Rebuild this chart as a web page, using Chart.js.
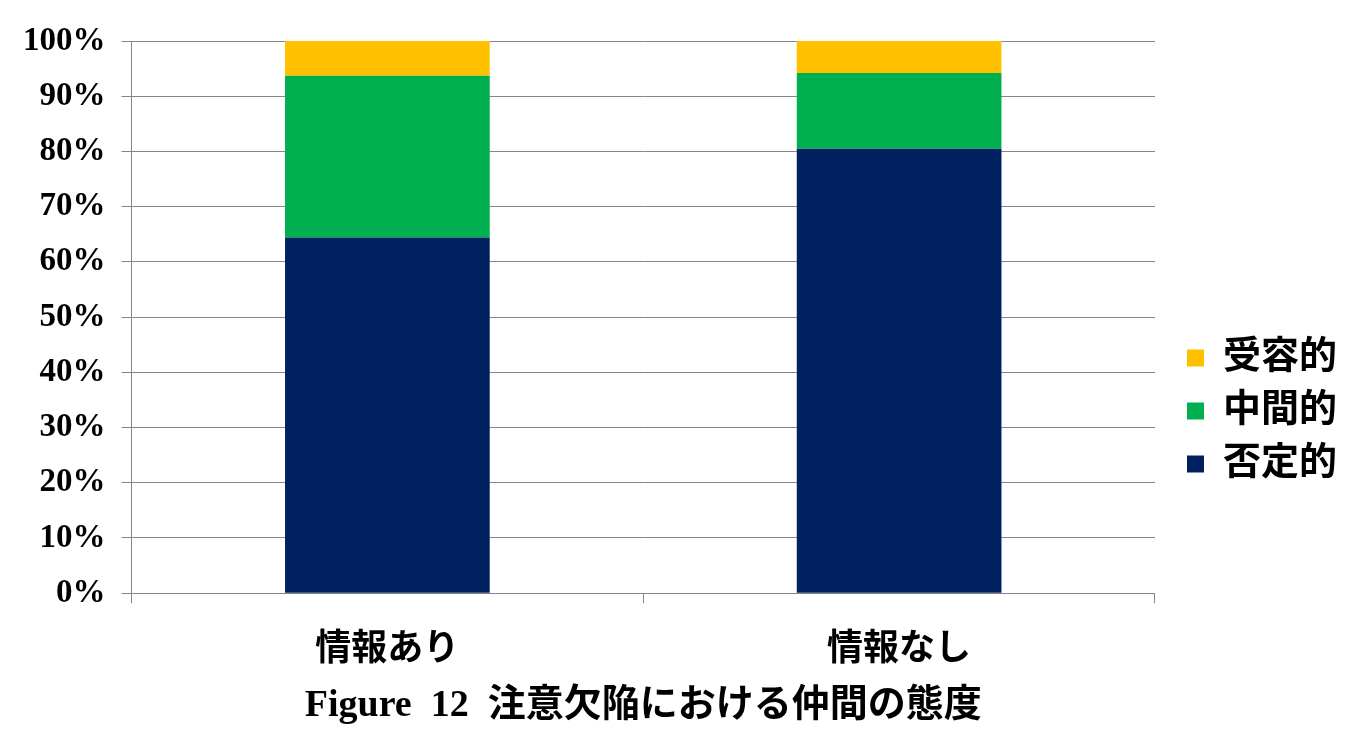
<!DOCTYPE html>
<html>
<head>
<meta charset="utf-8">
<script src="https://cdn.jsdelivr.net/npm/chart.js@4/dist/chart.umd.min.js"></script>
<style>
html,body{margin:0;padding:0;background:#fff;}
canvas{display:block;}
</style>
</head>
<body>
<canvas id="c" width="1352" height="744"></canvas>
<script>
const categories = ["情報あり", "情報なし"];
const seriesNames = ["否定的", "中間的", "受容的"];
const negative = [64.4, 80.5];
const neutral = [29.3, 13.7];
const accepting = [6.3, 5.8];
const seriesColors = ["#002060", "#00B050", "#FFC000"];
const titleText = "Figure  12  注意欠陥における仲間の態度";

const FONT = '"Liberation Serif", "Noto Sans CJK JP", serif';
const gridColor = "#868686";

// nudge the legend block to sit where the reference places it
const legendNudge = {
  id: "legendNudge",
  afterLayout(chart) {
    const lg = chart.legend;
    if (!lg) return;
    const dx = 17, dy = 26;
    lg.left += dx; lg.right += dx;
    lg.top += dy; lg.bottom += dy;
  }
};

new Chart(document.getElementById("c"), {
  type: "bar",
  data: {
    labels: categories,
    datasets: [
      { label: seriesNames[0], data: negative, backgroundColor: seriesColors[0] },
      { label: seriesNames[1], data: neutral, backgroundColor: seriesColors[1] },
      { label: seriesNames[2], data: accepting, backgroundColor: seriesColors[2] }
    ]
  },
  plugins: [legendNudge],
  options: {
    responsive: false,
    animation: false,
    devicePixelRatio: 1,
    layout: { padding: { top: 41, right: 22, left: 7, bottom: 15 } },
    datasets: { bar: { categoryPercentage: 1.0, barPercentage: 0.4, borderWidth: 0 } },
    scales: {
      x: {
        stacked: true,
        offset: true,
        grid: { offset: true, drawOnChartArea: false, drawTicks: true, tickLength: 10, color: gridColor, lineWidth: 1 },
        border: { display: true, color: gridColor, width: 1 },
        ticks: { color: "#000", padding: 26, font: { family: FONT, size: 36, weight: "bold" } }
      },
      y: {
        stacked: true,
        min: 0, max: 100,
        grid: { drawTicks: true, tickLength: 10, color: gridColor, lineWidth: 1 },
        border: { display: true, color: gridColor, width: 1 },
        ticks: { stepSize: 10, color: "#000", padding: 16, font: { family: FONT, size: 33, weight: "bold" },
                 callback: v => v + "%" }
      }
    },
    plugins: {
      tooltip: { enabled: false },
      legend: {
        position: "right",
        reverse: true,
        labels: { color: "#000", boxWidth: 17, boxHeight: 17, padding: 15,
                  font: { family: FONT, size: 38, weight: "bold" } }
      },
      title: {
        display: true,
        position: "bottom",
        fullSize: false,
        text: titleText,
        color: "#000",
        padding: { top: -15, bottom: 0 },
        font: { family: FONT, size: 38, weight: "bold" }
      }
    }
  }
});
</script>
</body>
</html>
